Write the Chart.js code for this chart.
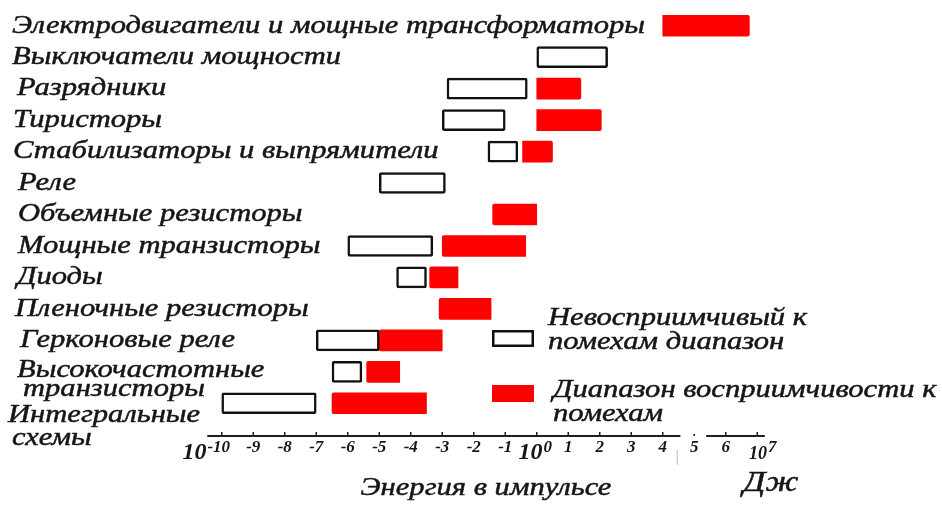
<!DOCTYPE html>
<html>
<head>
<meta charset="utf-8">
<script src="https://cdn.jsdelivr.net/npm/chart.js@4.4.1/dist/chart.umd.min.js"></script>
<style>
  html, body { margin: 0; padding: 0; background: #fff; }
  #wrap { width: 942px; height: 509px; position: relative; }
</style>
</head>
<body>
<div id="wrap"><canvas id="chart"></canvas></div>
<script>
// категории (сверху вниз)
const categories = [
  'Электродвигатели и мощные трансформаторы',
  'Выключатели мощности',
  'Разрядники',
  'Тиристоры',
  'Стабилизаторы и выпрямители',
  'Реле',
  'Объемные резисторы',
  'Мощные транзисторы',
  'Диоды',
  'Пленочные резисторы',
  'Герконовые реле',
  ['Высокочастотные', 'транзисторы'],
  ['Интегральные', 'схемы']
];

// диапазоны, lg(энергия, Дж)
const immuneRange = [
  null, [0, 2.25], [-2.85, -0.3], [-3, -1], [-1.55, -0.6], [-5, -2.9], null,
  [-6, -3.3], [-4.45, -3.5], null, [-7, -5], [-6.5, -5.55], [-10, -7]
];
const susceptibleRange = [
  [4, 6.75], null, [0, 1.4], [0, 2.05], [-0.45, 0.5], null, [-1.4, 0],
  [-3, -0.35], [-3.4, -2.5], [-3.1, -1.45], [-5, -3], [-5.4, -4.35], [-6.5, -3.5]
];

const tickValues = [-10, -9, -8, -7, -6, -5, -4, -3, -2, -1, 0, 1, 2, 3, 4, 5, 6, 7];
const tickLabels = ['-10', '-9', '-8', '-7', '-6', '-5', '-4', '-3', '-2', '-1', '0', '1', '2', '3', '4', '5', '6', '7'];
const powerTicks = [-10, 0, 7];   // подписи вида 10^n

const legendLabels = [
  ['Невосприимчивый к', 'помехам диапазон'],
  ['Диапазон восприимчивости к', 'помехам']
];
const axisTitle = 'Энергия в импульсе';
const unitLabel = 'Дж';

const SERIF = "'Liberation Serif'";
const labelFont = `italic 26px ${SERIF}`;
const INK = '#161616';

// мелкие сдвиги подписей строк
const labelIndent = [12, 12, 17, 13, 13, 18, 18, 18, 17, 15, 20, 17, 8];
const multiLine = { 11: { dy: [-2, 17], dx: [17, 23] }, 12: { dy: [12, 35], dx: [8, 12] } };
const powerShift = { '-10': -3, '0': 11, '7': 15 };

function scaledText(ctx, text, x, y, sx) {
  ctx.save();
  ctx.translate(x, y);
  ctx.scale(sx, 1);
  ctx.fillText(text, 0, 0);
  ctx.strokeText(text, 0, 0);
  ctx.restore();
}

const drawExtras = {
  id: 'drawExtras',
  afterDraw(chart) {
    const ctx = chart.ctx;
    const xs = chart.scales.x;
    const ys = chart.scales.y;
    const area = chart.chartArea;

    ctx.save();
    ctx.font = labelFont;
    const sx = 633 / ctx.measureText(categories[0]).width;
    ctx.fillStyle = INK;
    ctx.strokeStyle = INK;
    ctx.lineWidth = 0.5;
    ctx.textBaseline = 'middle';
    ctx.textAlign = 'left';

    // подписи категорий
    categories.forEach((c, i) => {
      const yc = ys.getPixelForValue(i);
      if (Array.isArray(c)) {
        const m = multiLine[i];
        c.forEach((line, k) => scaledText(ctx, line, m.dx[k], yc + m.dy[k], sx));
      } else {
        scaledText(ctx, c, labelIndent[i], yc, sx);
      }
    });

    // заголовок оси и единицы
    const tw = ctx.measureText(axisTitle).width * sx;
    const yAxis = area.bottom + 17;
    scaledText(ctx, axisTitle, 486 - tw / 2, yAxis + 52, sx);
    ctx.font = `italic 30px ${SERIF}`;
    scaledText(ctx, unitLabel, 743, yAxis + 47, sx);

    // легенда
    const boxes = [[492, 330], [492, 385]];
    chart.data.datasets.forEach((ds, d) => {
      const [bx, by] = boxes[d];
      ctx.fillStyle = ds.backgroundColor;
      ctx.fillRect(bx, by, 42, 17);
      if (ds.borderWidth) {
        ctx.strokeStyle = ds.borderColor;
        ctx.lineWidth = 2.5;
        ctx.strokeRect(bx + 1.25, by + 1.25, 39.5, 14.5);
      }
      ctx.fillStyle = INK;
      ctx.strokeStyle = INK;
      ctx.lineWidth = 0.5;
      ctx.font = labelFont;
      const tx = d === 0 ? 548 : 553;
      const ty = d === 0 ? 318 : 390;
      legendLabels[d].forEach((line, k) => scaledText(ctx, line, tx, ty + k * 24, sx));
    });

    // ось энергии
    ctx.strokeStyle = '#1e1e1e';
    ctx.lineWidth = 2;
    ctx.beginPath();
    ctx.moveTo(xs.getPixelForValue(-10.46), yAxis);
    ctx.lineTo(xs.getPixelForValue(4.56), yAxis);
    ctx.moveTo(xs.getPixelForValue(5.38), yAxis);
    ctx.lineTo(xs.getPixelForValue(7.24), yAxis);
    ctx.stroke();
    ctx.lineWidth = 1.5;
    ctx.beginPath();
    tickValues.forEach(v => {
      const px = xs.getPixelForValue(v);
      ctx.moveTo(px, yAxis);
      ctx.lineTo(px, yAxis - (v === 5 ? 2 : 4));
    });
    ctx.stroke();
    ctx.strokeStyle = '#bbb';
    ctx.lineWidth = 1;
    ctx.beginPath();
    ctx.moveTo(xs.getPixelForValue(4.46), yAxis + 14);
    ctx.lineTo(xs.getPixelForValue(4.46), yAxis + 29);
    ctx.stroke();

    // подписи делений
    ctx.fillStyle = INK;
    tickValues.forEach((v, i) => {
      const px = xs.getPixelForValue(v);
      if (powerTicks.includes(v)) {
        const ex = px + powerShift[String(v)];
        ctx.font = `bold italic 17px 'Liberation Serif'`;
        ctx.textAlign = 'center';
        ctx.fillText(tickLabels[i], ex, yAxis + 12);
        const ew = ctx.measureText(tickLabels[i]).width;
        ctx.font = v === 7 ? `bold italic 18px 'Liberation Serif'` : `bold italic 24px 'Liberation Serif'`;
        ctx.textAlign = 'right';
        ctx.fillText('10', ex - ew / 2 - 1, yAxis + (v === 7 ? 18 : 17));
      } else {
        ctx.font = `bold italic 17px 'Liberation Serif'`;
        ctx.textAlign = 'center';
        ctx.fillText(tickLabels[i], px, yAxis + 12);
      }
    });
    ctx.restore();
  }
};

new Chart(document.getElementById('chart'), {
  type: 'bar',
  data: {
    labels: categories,
    datasets: [
      {
        label: legendLabels[0].join(' '),
        data: immuneRange,
        backgroundColor: '#ffffff',
        borderColor: '#111111',
        borderWidth: 2.5,
        borderSkipped: false,
        borderRadius: 2,
        barThickness: 21,
        grouped: false
      },
      {
        label: legendLabels[1].join(' '),
        data: susceptibleRange,
        backgroundColor: '#ff0000',
        borderWidth: 0,
        borderRadius: 2,
        barThickness: 21,
        grouped: false
      }
    ]
  },
  options: {
    indexAxis: 'y',
    responsive: true,
    maintainAspectRatio: false,
    animation: false,
    layout: { padding: { left: 206, right: 169, top: 10, bottom: 90 } },
    plugins: { legend: { display: false }, tooltip: { enabled: false } },
    scales: {
      x: { type: 'linear', min: -10.5, max: 7.5, display: false },
      y: { type: 'category', display: false }
    }
  },
  plugins: [drawExtras]
});
</script>
</body>
</html>
